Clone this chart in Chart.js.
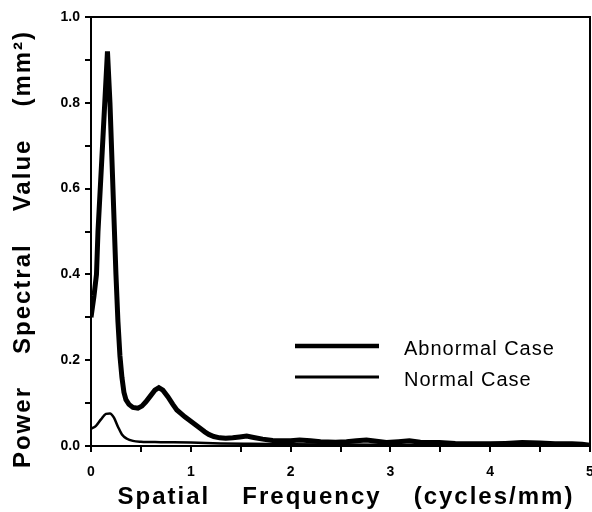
<!DOCTYPE html>
<html>
<head>
<meta charset="utf-8">
<script src="https://cdn.jsdelivr.net/npm/chart.js@4/dist/chart.umd.min.js"></script>
<style>
  html, body { margin: 0; padding: 0; background: #fff; }
  #wrap { width: 592px; height: 512px; }
</style>
</head>
<body>
<div id="wrap"><canvas id="grafico"></canvas></div>
<script>
// spatial frequency (cycles/mm) and power spectral value (mm^2)
const abnormalX = [0, 0.03, 0.055, 0.07, 0.12, 0.165, 0.19, 0.235, 0.25, 0.27, 0.29, 0.31, 0.33, 0.35, 0.38, 0.42, 0.47, 0.51, 0.55, 0.60, 0.64, 0.68, 0.72, 0.77, 0.82, 0.86, 0.90, 0.94, 0.98, 1.02, 1.06, 1.10, 1.14, 1.18, 1.23, 1.29, 1.35, 1.42, 1.49, 1.56, 1.63, 1.72, 1.82, 1.92, 2.0, 2.09, 2.2, 2.3, 2.45, 2.56, 2.66, 2.76, 2.86, 2.96, 3.08, 3.19, 3.3, 3.49, 3.65, 3.82, 4.0, 4.15, 4.32, 4.5, 4.65, 4.82, 4.92, 5.0];
const abnormalY = [0.30, 0.35, 0.40, 0.50, 0.72, 0.92, 0.80, 0.50, 0.40, 0.29, 0.21, 0.16, 0.125, 0.108, 0.097, 0.09, 0.088, 0.093, 0.103, 0.118, 0.13, 0.136, 0.13, 0.115, 0.097, 0.084, 0.076, 0.068, 0.061, 0.054, 0.047, 0.040, 0.033, 0.027, 0.022, 0.019, 0.018, 0.019, 0.021, 0.023, 0.020, 0.016, 0.013, 0.012, 0.012, 0.014, 0.012, 0.010, 0.009, 0.010, 0.012, 0.014, 0.011, 0.008, 0.010, 0.012, 0.009, 0.008, 0.006, 0.005, 0.005, 0.006, 0.008, 0.007, 0.005, 0.005, 0.004, 0.002];

const normalX = [0, 0.05, 0.10, 0.15, 0.19, 0.23, 0.27, 0.31, 0.36, 0.42, 0.5, 0.7, 1.0, 1.3, 1.6, 2.0, 3.0, 4.0, 5.0];
const normalY = [0.04, 0.047, 0.062, 0.075, 0.076, 0.066, 0.045, 0.027, 0.017, 0.012, 0.010, 0.009, 0.008, 0.006, 0.005, 0.004, 0.003, 0.003, 0.002];

const seriesLabels = ["Abnormal Case", "Normal Case"];
const xTickLabels = ["0", "1", "2", "3", "4", "5"];
const yTickLabels = ["0.0", "0.2", "0.4", "0.6", "0.8", "1.0"];
const xTitle = ["Spatial", "Frequency", "(cycles/mm)"];
const yTitle = ["Power", "Spectral", "Value", "(mm²)"];

const FONTE = "'Liberation Sans', Arial, sans-serif";

function pares(xs, ys) {
    return xs.map((x, i) => ({ x: x, y: ys[i] }));
}

// writes words one after another with a fixed gap between them
function palavras(c, words, gap) {
    const larg = words.map((w) => c.measureText(w).width);
    const total = larg.reduce((a, b) => a + b, 0) + gap * (words.length - 1);
    let x = -total / 2;
    words.forEach((w, i) => {
        c.fillText(w, x, 0);
        x += larg[i] + gap;
    });
}

// frame on top/right, axis titles and legend inside the plot
const moldura = {
    id: "moldura",
    afterDraw(chart) {
        const c = chart.ctx;
        const a = chart.chartArea;
        c.save();
        c.strokeStyle = "#000";
        c.fillStyle = "#000";
        c.lineWidth = 2;
        c.beginPath();
        c.moveTo(a.left, a.top);
        c.lineTo(a.right, a.top);
        c.lineTo(a.right, a.bottom);
        c.stroke();

        // axis titles
        c.font = "bold 24px " + FONTE;
        c.letterSpacing = "2px";
        c.textBaseline = "alphabetic";
        c.textAlign = "left";
        c.save();
        c.translate(346, 504);
        palavras(c, xTitle, 32);
        c.restore();
        c.save();
        c.translate(30, 249);
        c.rotate(-Math.PI / 2);
        palavras(c, yTitle, 32);
        c.restore();

        // legend
        c.font = "20px " + FONTE;
        c.letterSpacing = "1px";
        c.textBaseline = "middle";
        chart.data.datasets.forEach((ds, i) => {
            const y = 346 + i * 31;
            c.lineWidth = i === 0 ? 4.5 : 3;
            c.beginPath();
            c.moveTo(295, y);
            c.lineTo(379, y);
            c.stroke();
            c.fillText(ds.label, 404, y + 3);
        });
        c.restore();
    }
};

document.addEventListener("DOMContentLoaded", function () {
    const ctx = document.getElementById("grafico").getContext("2d");

    new Chart(ctx, {
        type: "line",
        data: {
            datasets: [
                {
                    label: seriesLabels[0],
                    data: pares(abnormalX, abnormalY),
                    borderColor: "#000",
                    borderWidth: 5,
                    pointRadius: 0,
                    tension: 0,
                },
                {
                    label: seriesLabels[1],
                    data: pares(normalX, normalY),
                    borderColor: "#000",
                    borderWidth: 2.5,
                    pointRadius: 0,
                    cubicInterpolationMode: "monotone",
                },
            ],
        },
        options: {
            responsive: true,
            maintainAspectRatio: false,
            animation: false,
            layout: { padding: { top: 17, right: 2 } },
            plugins: {
                legend: { display: false },
                tooltip: { enabled: false },
            },
            scales: {
                x: {
                    type: "linear",
                    min: 0,
                    max: 5,
                    afterFit: (s) => {
                        s.height = 66;
                        s.paddingLeft = 0;
                        s.paddingRight = 0;
                    },
                    afterBuildTicks: (s) => {
                        s.ticks = [];
                        for (let i = 0; i <= 10; i++) s.ticks.push({ value: i / 2 });
                    },
                    border: { display: true, color: "#000", width: 2 },
                    grid: { drawOnChartArea: false, drawTicks: true, tickLength: 6, color: "#000", lineWidth: 2 },
                    ticks: {
                        color: "#000",
                        padding: 12,
                        maxRotation: 0,
                        autoSkip: false,
                        font: { family: FONTE, size: 14, weight: "bold" },
                        callback: (v) => (Number.isInteger(v) ? xTickLabels[v] : ""),
                    },
                },
                y: {
                    min: 0,
                    max: 1,
                    afterFit: (s) => { s.width = 91; },
                    afterBuildTicks: (s) => {
                        s.ticks = [];
                        for (let i = 0; i <= 10; i++) s.ticks.push({ value: i / 10 });
                    },
                    border: { display: true, color: "#000", width: 2 },
                    grid: { drawOnChartArea: false, drawTicks: true, tickLength: 6, color: "#000", lineWidth: 2 },
                    ticks: {
                        color: "#000",
                        padding: 5,
                        autoSkip: false,
                        font: { family: FONTE, size: 14, weight: "bold" },
                        callback: (v) => {
                            const k = Math.round(v * 10);
                            return k % 2 === 0 ? yTickLabels[k / 2] : "";
                        },
                    },
                },
            },
        },
        plugins: [moldura],
    });
});
</script>
</body>
</html>
